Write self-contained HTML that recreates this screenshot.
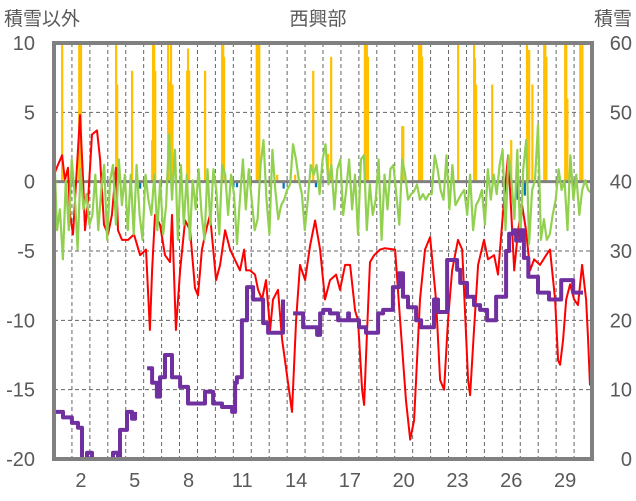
<!DOCTYPE html>
<html><head><meta charset="utf-8">
<style>
html,body{margin:0;padding:0;background:#fff;}
svg{display:block;font-family:"Liberation Sans","Noto Sans CJK JP",sans-serif;}
</style></head>
<body>
<svg id="chart" width="636" height="501" viewBox="0 0 636 501" xmlns="http://www.w3.org/2000/svg">
<text x="4" y="25" font-size="19" fill="#595959">積雪以外</text>
<text x="318" y="25" font-size="19" fill="#595959" text-anchor="middle">西興部</text>
<text x="632" y="25" font-size="19" fill="#595959" text-anchor="end">積雪</text>
<g id="grid"></g>
<g id="bars"></g>
<g id="negbars"></g>
<g id="zero"></g>
<g id="lines"></g>
<g id="frame"></g>
<g id="axes"></g>
</svg>
<script>
const leftTicks=[10,5,0,-5,-10,-15,-20];
const rightTicks=[60,50,40,30,20,10,0];
const dayLabels=[2,5,8,11,14,17,20,23,26,29];
const redDays=[0,0.22,0.45,0.61,0.78,0.89,1.06,1.45,1.62,1.73,1.9,2.12,2.4,2.57,2.79,3.01,3.23,3.46,3.57,3.79,4.13,4.46,4.8,5.13,5.35,5.47,5.63,5.91,6.19,6.47,6.58,6.8,7.03,7.31,7.59,7.86,8.03,8.25,8.48,8.7,9.04,9.26,9.54,9.82,10.15,10.37,10.6,10.71,10.93,11.21,11.38,11.6,11.82,12.05,12.21,12.49,12.72,12.88,13.27,13.5,13.72,14.0,14.28,14.56,14.84,15.11,15.39,15.73,15.95,16.23,16.51,16.79,16.95,17.18,17.29,17.46,17.62,17.85,18.18,18.46,19.02,19.3,19.63,19.86,20.08,20.41,20.69,20.97,21.3,21.53,21.75,21.97,22.2,22.53,22.76,23.09,23.2,23.42,23.65,23.98,24.2,24.54,24.76,24.87,25.1,25.32,25.49,25.66,25.88,26.1,26.32,26.55,26.77,27.1,27.44,27.66,27.94,28.11,28.22,28.39,28.56,28.78,29.0,29.22,29.45,29.67,29.78,29.89];
const redVals=[0.5,1.2,1.9,0.1,1.0,-2.4,-3.8,4.8,0.1,-3.5,-1.3,3.4,3.7,1.6,-3.1,-3.8,-2.4,1.0,-3.5,-4.2,-4.2,-3.8,-5.3,-4.9,-10.7,-6.4,-2.4,-3.1,-5.3,-5.8,-2.4,-10.7,-6.4,-2.8,-3.5,-7.7,-8.2,-4.9,-3.5,-2.4,-7.1,-6.0,-3.5,-4.9,-5.8,-6.4,-4.9,-6.4,-6.4,-6.7,-7.8,-8.5,-7.1,-10.7,-8.5,-7.8,-11.4,-12.9,-16.6,-10.0,-6.0,-7.1,-4.6,-2.8,-4.9,-8.5,-7.1,-6.7,-7.8,-6.0,-6.0,-9.3,-10.0,-15.0,-16.1,-10.7,-5.8,-5.3,-4.9,-4.8,-4.9,-10.0,-15.8,-18.6,-17.2,-8.5,-4.9,-4.0,-8.5,-14.3,-15.0,-10.0,-6.4,-4.2,-4.9,-14.3,-15.4,-10.7,-6.0,-4.2,-5.6,-5.3,-6.7,-4.9,-1.3,1.9,-2.0,-6.4,-3.5,-1.7,-3.5,-6.4,-5.6,-6.0,-5.3,-4.9,-8.5,-12.9,-13.2,-11.4,-8.5,-7.4,-8.5,-8.9,-6.0,-8.5,-11.4,-14.7];
const greenVals=[2.7,-3.5,-2.0,-5.6,0.1,-3.5,1.6,-0.9,-4.9,0.9,-2.0,-0.9,-3.1,-2.4,0.5,-3.5,-0.6,1.2,-4.2,0.1,1.2,-3.1,1.6,-1.7,0.5,-3.5,0.5,-3.8,1.2,-2.4,-4.2,0.5,-1.3,-2.4,0.5,-3.5,0.1,-3.8,-1.7,3.4,-1.3,2.3,-4.2,1.2,-3.1,0.5,-4.2,0.1,-2.0,0.9,-2.4,-4.2,0.9,-3.1,0.9,-0.6,-3.8,1.2,0.5,-2.4,0.5,-0.9,-4.5,-1.3,1.6,-2.0,0.9,-1.3,-3.5,-2.7,1.2,3.0,-1.3,-3.8,2.3,-0.6,-2.7,-1.7,-1.3,-0.6,-0.2,2.7,1.6,0.1,-0.9,-3.5,-1.3,1.2,0.5,1.2,-0.9,1.6,2.7,-0.2,1.2,-2.0,0.9,1.6,-2.4,-0.6,1.6,-2.0,0.5,-3.8,1.6,1.9,-3.5,-0.2,-2.4,-1.3,1.6,-4.2,0.5,-2.0,0.9,1.2,-0.9,-3.1,1.6,0.5,-1.3,-0.9,-0.7,-0.2,-1.3,-0.9,-1.3,-0.9,-0.9,1.9,0.9,-0.6,-1.3,1.9,-2.0,1.2,-1.7,-1.3,-0.9,-0.6,-2.4,0.5,-3.5,-1.7,-1.3,-0.6,-3.1,0.9,-1.3,0.5,-0.9,1.2,2.3,-3.5,1.9,0.1,-2.7,2.3,-4.2,0.9,3.0,-4.5,-0.6,0.1,4.1,-4.2,-2.7,-4.2,-3.8,-2.4,-1.3,0.9,-0.6,0.1,-3.5,1.9,-1.3,0.5,-2.4,-0.6,0.1,-0.6,-0.8];
const snowDays=[0,0.45,0.5,0.78,1.0,1.34,1.56,1.84,2.12,3.23,3.29,3.57,3.68,4.07,4.35,4.52,null,5.19,5.47,5.74,5.91,6.19,6.58,7.03,7.47,8.14,8.42,8.87,9.37,9.93,10.1,10.2,10.48,10.76,11.1,11.66,11.94,12.61,12.77,null,13.33,13.89,14.67,14.84,15.01,15.39,15.84,15.9,16.4,16.45,17.01,17.4,18.07,18.35,18.9,19.24,19.46,19.74,20.19,20.47,20.91,21.19,21.41,21.64,21.92,22.48,22.65,23.03,23.42,23.76,24.15,24.65,25.21,25.38,25.6,25.77,26.0,26.2,26.45,26.6,26.99,27.44,27.6,27.99,28.28,28.95,29.11,29.5,29.95];
const snowVals=[6.8,6.8,6.0,6.0,5.2,4.5,0,0.9,0,0,0.9,0,4.2,6.8,5.8,6.8,null,13.1,11.0,9.0,11.8,15.0,11.8,10.4,8.0,8.0,9.7,8.0,7.5,6.8,11.0,11.8,20.0,24.8,23.0,19.6,18.2,18.2,23.0,null,21.0,19.0,17.9,21.0,21.5,21.0,20.0,20.0,21.0,20.0,19.0,18.2,21.0,21.5,24.8,26.8,23.4,21.9,20.0,19.0,19.0,23.0,21.2,21.2,28.7,27.3,25.4,23.4,22.2,21.5,20.0,23.4,30.0,32.5,33.0,31.5,33.0,29.0,26.3,26.3,24.0,24.0,23.0,23.0,25.8,24.0,24.0];
const rainDays=[0.45,1.4,1.45,1.5,3.46,3.52,4.35,5.47,5.52,5.58,5.64,6.36,6.46,6.52,6.6,7.42,7.47,7.53,8.42,9.37,9.43,9.48,11.3,11.36,11.44,12.44,13.44,14.45,15.28,15.45,17.33,17.38,17.44,17.5,19.41,19.47,20.35,20.41,20.47,20.52,22.53,23.42,23.47,23.53,24.43,25.49,26.37,26.43,26.49,26.67,27.33,27.39,27.45,28.5,28.56,28.62,29.34,29.4,29.46];
const rainVals=[10,10,10,10,10,7,8,3,10,10,8,10,7.2,10,7,8,9.6,8,8,10,10,9,10,10,10,0.5,0.5,8,2,9,10,10,10,9,4,4,10,10,10,9,10,10,8.9,7,7,3,10,7,9.5,7,10,10,9,10,10,6,10,4.9,10];
const negDays=[4.8,10.0,10.2,12.8,14.6,25.85,26.25,29.1];
const negVals=[-0.5,-0.4,-0.4,-0.5,-0.4,-1.3,-1.0,-0.4];

const NS="http://www.w3.org/2000/svg";
const X0=54,X1=592,Y0=43,Y1=459;
const xs=d=>X0+d*(X1-X0)/30;
const yl=v=>Y1-(v+20)*(Y1-Y0)/30;
const yr=v=>Y1-v*(Y1-Y0)/60;
function mk(tag,attrs,parent){const e=document.createElementNS(NS,tag);for(const k in attrs)e.setAttribute(k,attrs[k]);parent.appendChild(e);return e;}
const grid=document.getElementById('grid');
for(let d=1;d<30;d++){
  const l=mk('line',{x1:xs(d),x2:xs(d),y1:Y0,y2:Y1,stroke:'#666','stroke-width':1,'stroke-dasharray':'4,3'},grid);
  
  
}
leftTicks.forEach(v=>{
  if(v===0||v===10||v===-20)return;
  const l=mk('line',{x1:X0,x2:X1,y1:yl(v),y2:yl(v),stroke:'#666','stroke-width':1,'stroke-dasharray':'4,3'},grid);
  
  
});
const bars=document.getElementById('bars');
rainDays.forEach((d,i)=>{
  const v=Math.min(rainVals[i],10);
  const r=mk('rect',{x:xs(d)-1,y:yl(v),width:2.2,height:yl(0)-yl(v),fill:'#FFC000'},bars);
  
  
});
const nb=document.getElementById('negbars');
negDays.forEach((d,i)=>{
  const r=mk('rect',{x:xs(d)-1,y:yl(0),width:2.2,height:yl(negVals[i])-yl(0),fill:'#0070C0'},nb);
  
  
});
const lines=document.getElementById('lines');
function path(days,vals,ys,step){let s='',pen=false,py=0;days.forEach((d,i)=>{if(d===null||vals[i]===null){pen=false;return;}const x=xs(d).toFixed(1),y=ys(vals[i]).toFixed(1);if(pen&&step)s+='L'+x+' '+py+' ';s+=(pen?'L':'M')+x+' '+y+' ';py=y;pen=true;});return s;}
const red=mk('path',{d:path(redDays,redVals,yl),fill:'none',stroke:'#FF0000','stroke-width':2,'stroke-linejoin':'round'},lines);


const gDays=greenVals.map((v,i)=>i*29.95/(greenVals.length-1));
const green=mk('path',{d:path(gDays,greenVals,yl),fill:'none',stroke:'#92D050','stroke-width':2.2,'stroke-linejoin':'round'},lines);


const zero=document.getElementById('zero');
const z=mk('line',{x1:X0,x2:X1,y1:yl(0),y2:yl(0),stroke:'#808080','stroke-width':3},zero);


const snow=mk('path',{d:path(snowDays,snowVals,yr,true),fill:'none',stroke:'#7030A0','stroke-width':4,'stroke-linejoin':'round'},lines);


const fr=mk('rect',{x:X0,y:Y0,width:X1-X0,height:Y1-Y0,fill:'none',stroke:'#808080','stroke-width':4},document.getElementById('frame'));


const ax=document.getElementById('axes');
leftTicks.forEach(v=>{
  const t=mk('text',{x:35,y:yl(v)+7,'font-size':20,fill:'#595959','text-anchor':'end'},ax);
  t.textContent=v;
  
  
});
rightTicks.forEach(v=>{
  const t=mk('text',{x:632,y:yr(v)+7,'font-size':20,fill:'#595959','text-anchor':'end'},ax);
  t.textContent=v;
  
  
});
dayLabels.forEach(d=>{
  const t=mk('text',{x:xs(d-0.5),y:487,'font-size':20,fill:'#595959','text-anchor':'middle'},ax);
  t.textContent=d;
  
  
});
</script>
</body></html>
